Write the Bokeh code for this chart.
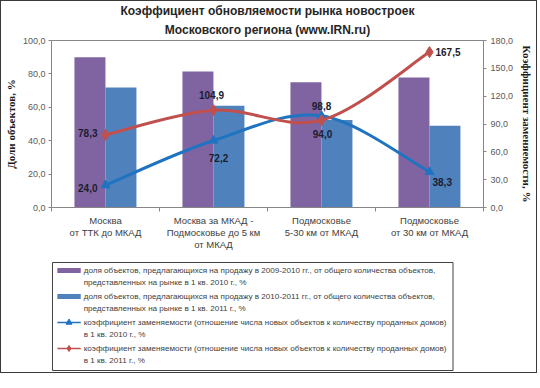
from bokeh.plotting import figure
from bokeh.layouts import column
from bokeh.models import Range1d, LinearAxis, FixedTicker, ColumnDataSource, Title
from bokeh.core.properties import value
from bokeh.embed import file_html
from bokeh.resources import INLINE

# ---------------- data ----------------
categories = [
    "Москва\nот ТТК до МКАД",
    "Москва за МКАД -\nПодмосковье до 5 км\nот МКАД",
    "Подмосковье\n5-30 км от МКАД",
    "Подмосковье\nот 30 км от МКАД",
]
share_2010 = [90.0, 81.4, 75.0, 77.8]
share_2011 = [71.8, 61.0, 52.4, 49.0]
ratio_2010 = [24.0, 72.2, 98.8, 38.3]
ratio_2011 = [78.3, 104.9, 94.0, 167.5]
ratio_2010_labels = ["24,0", "72,2", "98,8", "38,3"]
ratio_2011_labels = ["78,3", "104,9", "94,0", "167,5"]
left_ticks = [0, 20, 40, 60, 80, 100]
left_tick_labels = ["0,0", "20,0", "40,0", "60,0", "80,0", "100,0"]
right_ticks = [0, 30, 60, 90, 120, 150, 180]
right_tick_labels = ["0,0", "30,0", "60,0", "90,0", "120,0", "150,0", "180,0"]
legend_labels = [
    "доля объектов, предлагающихся на продажу в 2009-2010 гг., от общего количества объектов,\nпредставленных на рынке в 1 кв. 2010 г., %",
    "доля объектов, предлагающихся на продажу в 2010-2011 гг., от общего количества объектов,\nпредставленных на рынке в 1 кв. 2011 г., %",
    "коэффициент заменяемости (отношение числа новых объектов к количеству проданных домов)\nв 1 кв. 2010 г., %",
    "коэффициент заменяемости (отношение числа новых объектов к количеству проданных домов)\nв 1 кв. 2011 г., %",
]
title_line1 = "Коэффициент обновляемости рынка новостроек"
title_line2 = "Московского региона (www.IRN.ru)"

# ---------------- styles ----------------
PURPLE = "#8064A2"
BLUE_BAR = "#4F81BD"
BLUE_LINE = "#1F74C2"
RED_LINE = "#C0504D"
AXIS = "#868686"
TICK_TXT = "#595959"
FONT = "Liberation Sans"
SERIF = "Liberation Serif"

n = len(categories)
centers = [i + 0.5 for i in range(n)]
bar_w = 0.287
x_purple = [c - 0.144 for c in centers]
x_blue = [c + 0.143 for c in centers]

p = figure(
    frame_width=432, frame_height=167,
    min_border_left=44, min_border_right=48, min_border_top=32, min_border_bottom=0,
    x_range=Range1d(0, n), y_range=Range1d(0, 100),
    output_backend="svg", toolbar_location=None,
)
p.extra_y_ranges = {"right": Range1d(0, 180)}
p.xgrid.visible = False
p.ygrid.visible = False
p.outline_line_color = AXIS
p.background_fill_color = "white"
p.border_fill_color = "white"

# titles (the later-added title sits closer to the frame)
p.title.text = title_line1
p.title.align = "center"
p.title.offset = -8
p.title.text_font = FONT
p.title.text_font_size = "12px"
p.title.text_font_style = "bold"
p.title.text_color = "#262626"
p.title.standoff = 0
t2 = Title(text=title_line2, align="center", offset=-8, text_font=FONT, text_font_size="12px",
           text_font_style="bold", text_color="#262626", standoff=7)
p.add_layout(t2, "above")

# bars
p.vbar(x=x_purple, top=share_2010, width=bar_w, fill_color=PURPLE, line_color=None)
p.vbar(x=x_blue, top=share_2011, width=bar_w, fill_color=BLUE_BAR, line_color=None)


def smooth(xs, ys):
    d = dict(x0=[], y0=[], x1=[], y1=[], cx0=[], cy0=[], cx1=[], cy1=[])
    m = len(xs)
    for i in range(m - 1):
        xp, yp = (xs[i - 1], ys[i - 1]) if i > 0 else (xs[i], ys[i])
        xn, yn = (xs[i + 2], ys[i + 2]) if i + 2 < m else (xs[i + 1], ys[i + 1])
        d["x0"].append(xs[i]); d["y0"].append(ys[i])
        d["x1"].append(xs[i + 1]); d["y1"].append(ys[i + 1])
        d["cx0"].append(xs[i] + (xs[i + 1] - xp) / 6)
        d["cy0"].append(ys[i] + (ys[i + 1] - yp) / 6)
        d["cx1"].append(xs[i + 1] - (xn - xs[i]) / 6)
        d["cy1"].append(ys[i + 1] - (yn - ys[i]) / 6)
    return ColumnDataSource(d)


p.bezier(x0="x0", y0="y0", x1="x1", y1="y1", cx0="cx0", cy0="cy0", cx1="cx1", cy1="cy1",
         source=smooth(centers, ratio_2010), line_color=BLUE_LINE, line_width=3, y_range_name="right")
p.scatter(centers, ratio_2010, marker="triangle", size=9, fill_color=BLUE_LINE,
          line_color=BLUE_LINE, y_range_name="right")
p.bezier(x0="x0", y0="y0", x1="x1", y1="y1", cx0="cx0", cy0="cy0", cx1="cx1", cy1="cy1",
         source=smooth(centers, ratio_2011), line_color=RED_LINE, line_width=3, y_range_name="right")
p.scatter(centers, ratio_2011, marker="diamond", size=11, fill_color=RED_LINE,
          line_color=RED_LINE, y_range_name="right")

# data labels
lab_dx_2010 = [-8, 5, 0, 3]
lab_dy_2010 = [3, 17, -10, 10]
lab_al_2010 = ["right", "center", "center", "left"]
lab_dx_2011 = [-8, -2, 1, 6]
lab_dy_2011 = [-2, -15, 14, 0]
lab_al_2011 = ["right", "center", "center", "left"]
for vals, labs, dx, dy, al in [
    (ratio_2010, ratio_2010_labels, lab_dx_2010, lab_dy_2010, lab_al_2010),
    (ratio_2011, ratio_2011_labels, lab_dx_2011, lab_dy_2011, lab_al_2011),
]:
    src = ColumnDataSource(dict(x=centers, y=vals, t=labs, dx=dx, dy=dy, al=al))
    p.text(x="x", y="y", text="t", x_offset="dx", y_offset="dy", text_align="al",
           text_baseline="middle", source=src, y_range_name="right",
           text_font=value(FONT), text_font_size="10px", text_font_style="bold",
           text_color="#1c1c2c")

# axes
p.xaxis.ticker = FixedTicker(ticks=centers, minor_ticks=list(range(n + 1)))
p.xaxis.major_label_overrides = {c: lab for c, lab in zip(centers, categories)}
p.xaxis.major_tick_out = 0
p.xaxis.major_tick_in = 0
p.xaxis.minor_tick_out = 4
p.xaxis.minor_tick_in = 0
p.xaxis.minor_tick_line_color = AXIS
p.xaxis.axis_line_color = AXIS
p.xaxis.major_label_standoff = 3
p.xaxis.major_label_text_font = FONT
p.xaxis.major_label_text_font_size = "9.5px"
p.xaxis.major_label_text_color = "#404040"
p.xaxis.major_label_text_line_height = 1.1

ya = p.yaxis[0]
ya.ticker = FixedTicker(ticks=left_ticks)
ya.major_label_overrides = {t: s for t, s in zip(left_ticks, left_tick_labels)}
ya.minor_tick_line_color = None
ya.major_tick_out = 3
ya.major_tick_in = 0
ya.major_tick_line_color = AXIS
ya.axis_line_color = AXIS
ya.major_label_standoff = 3
ya.major_label_text_font = FONT
ya.major_label_text_font_size = "9px"
ya.major_label_text_color = TICK_TXT
ya.axis_label = "Доли объектов, %"
ya.axis_label_text_font = SERIF
ya.axis_label_text_font_size = "11px"
ya.axis_label_text_font_style = "bold"
ya.axis_label_text_color = "#1a1a1a"
ya.axis_label_standoff = 3

ra = LinearAxis(y_range_name="right", ticker=FixedTicker(ticks=right_ticks))
ra.major_label_overrides = {t: s for t, s in zip(right_ticks, right_tick_labels)}
ra.minor_tick_line_color = None
ra.major_tick_out = 3
ra.major_tick_in = 0
ra.major_tick_line_color = AXIS
ra.axis_line_color = AXIS
ra.major_label_standoff = 4
ra.major_label_text_font = FONT
ra.major_label_text_font_size = "9px"
ra.major_label_text_color = TICK_TXT
ra.axis_label = "Коэффициент заменяемости, %"
ra.axis_label_text_font = SERIF
ra.axis_label_text_font_size = "11px"
ra.axis_label_text_font_style = "bold"
ra.axis_label_text_color = "#1a1a1a"
ra.axis_label_standoff = 5
p.add_layout(ra, "right")

# ---------------- legend panel (drawn as a key box below the chart) ----------------
LW, LH = 432, 120
q = figure(
    width=524, height=LH, x_range=Range1d(0, LW), y_range=Range1d(0, LH),
    min_border=0, x_axis_location=None, y_axis_location=None, title=None,
    output_backend="svg", toolbar_location=None,
)
q.grid.visible = False
q.outline_line_color = None
q.background_fill_color = "white"
q.border_fill_color = "white"

row_top = [102 - 26 * k for k in range(4)]
q.quad(left=[1], right=[412], bottom=[2], top=[110], fill_color="white",
       line_color="#404040", line_width=1)
# bar swatches
q.quad(left=[6], right=[30], bottom=[row_top[0] - 2.5], top=[row_top[0] + 2.5],
       fill_color=PURPLE, line_color=None)
q.quad(left=[6], right=[30], bottom=[row_top[1] - 2.5], top=[row_top[1] + 2.5],
       fill_color=BLUE_BAR, line_color=None)
# line swatches
q.segment(x0=[6], y0=[row_top[2]], x1=[30], y1=[row_top[2]], line_color=BLUE_LINE, line_width=1.5)
q.scatter(x=[18], y=[row_top[2]], marker="triangle", size=6, fill_color=BLUE_LINE, line_color=BLUE_LINE)
q.segment(x0=[6], y0=[row_top[3]], x1=[30], y1=[row_top[3]], line_color=RED_LINE, line_width=1.5)
q.scatter(x=[18], y=[row_top[3]], marker="diamond", size=6, fill_color=RED_LINE, line_color=RED_LINE)

lt_x, lt_y, lt_t = [], [], []
for k, lab in enumerate(legend_labels):
    for j, line in enumerate(lab.split("\n")):
        lt_x.append(33)
        lt_y.append(row_top[k] - 12 * j)
        lt_t.append(line)
q.text(x=lt_x, y=lt_y, text=lt_t, text_baseline="middle", text_align="left",
       text_font=value(FONT), text_font_size="8.1px", text_color="#404040")

page = column(p, q, spacing=0, styles={"border": "1px solid #3a3a3a"})

open("out.html", "w").write(file_html(page, INLINE))
